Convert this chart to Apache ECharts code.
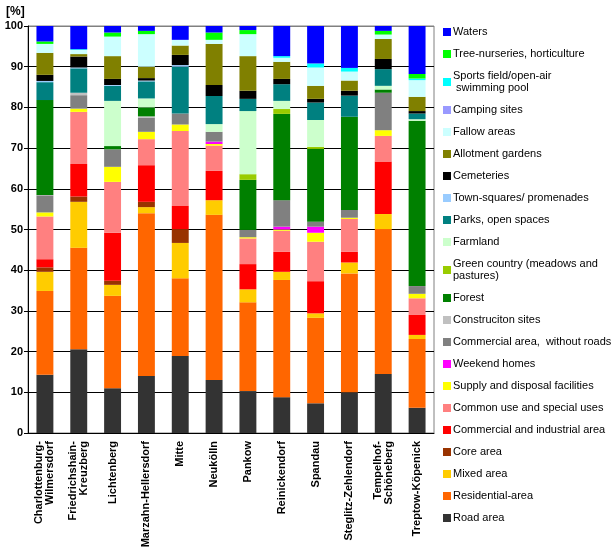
<!DOCTYPE html>
<html>
<head>
<meta charset="utf-8">
<script src="https://cdn.jsdelivr.net/npm/echarts@6/dist/echarts.min.js"></script>
<style>
    html, body { margin: 0; padding: 0; background: #fff; }
    #chart { width: 615px; height: 555px; }
</style>
</head>
<body>
<div id="chart"></div>
<script>
// districts, left to right
var districts = ['Charlottenburg-\nWilmersdorf', 'Friedrichshain-\nKreuzberg', 'Lichtenberg', 'Marzahn-Hellersdorf',
    'Mitte', 'Neukölln', 'Pankow', 'Reinickendorf', 'Spandau', 'Steglitz-Zehlendorf', 'Tempelhof-\nSchöneberg', 'Treptow-Köpenick'];

// land use shares in %, bottom of the stack first
var roadArea        = [14.3, 20.6, 11.0, 14.0, 18.9, 13.0, 10.3, 8.8, 7.3, 10.0, 14.5, 6.2];
var residential     = [20.6, 24.9, 22.7, 40.0, 19.1, 40.6, 21.8, 28.8, 21.0, 29.2, 35.6, 16.9];
var mixedArea       = [4.7, 11.3, 2.7, 1.5, 8.7, 3.6, 3.2, 2.0, 1.1, 2.7, 3.7, 1.0];
var coreArea        = [1.1, 1.3, 1.0, 1.3, 3.4, 0, 0, 0, 0, 0, 0, 0];
var commercialInd   = [2.0, 8.0, 11.8, 9.0, 5.7, 7.2, 6.2, 4.9, 7.9, 2.6, 12.9, 4.9];
var commonUse       = [10.5, 12.8, 12.5, 6.4, 18.4, 6.2, 6.3, 5.2, 9.7, 8.1, 6.3, 4.1];
var supply          = [1.0, 0.8, 3.7, 1.8, 1.6, 0.4, 0.3, 0.3, 2.2, 0.3, 1.4, 1.1];
var weekendHomes    = [0, 0, 0, 0, 0, 0.6, 0, 0.7, 1.5, 0, 0, 0];
var commercialNoRd  = [4.2, 3.3, 4.3, 3.5, 2.7, 2.4, 1.8, 6.5, 1.2, 1.9, 9.2, 1.9];
var construction    = [0.1, 0.6, 0, 0.3, 0, 0, 0, 0, 0, 0, 0, 0];
var forest          = [23.3, 0, 0.8, 2.2, 0, 0, 12.3, 21.2, 17.9, 22.9, 0.8, 40.6];
var greenCountry    = [0, 0, 0, 0, 0, 0, 1.4, 1.2, 0.5, 0, 0, 0];
var farmland        = [0, 0, 11.1, 2.2, 0, 1.9, 15.5, 2.0, 6.6, 0, 0.9, 0.4];
var parks           = [4.4, 6.0, 3.7, 4.2, 11.5, 6.9, 3.0, 4.1, 4.3, 5.2, 4.1, 1.4];
var townSquares     = [0.3, 0.2, 0.2, 0.2, 0.4, 0, 0, 0, 0, 0, 0, 0];
var cemeteries      = [1.5, 2.7, 1.5, 0.6, 2.5, 2.7, 2.0, 1.3, 0.9, 1.2, 2.5, 0.6];
var allotments      = [5.4, 0.6, 5.6, 2.8, 2.3, 10.1, 8.5, 4.2, 3.2, 2.5, 4.9, 3.5];
var fallow          = [2.2, 1.0, 4.8, 8.0, 1.4, 1.0, 5.4, 1.0, 4.5, 2.2, 1.1, 4.1];
var camping         = [0, 0, 0, 0, 0, 0, 0, 0, 0, 0, 0, 0];
var sports          = [0, 0.2, 0, 0, 0, 0, 0, 0.4, 1.0, 0.9, 0, 0.4];
var treeNurseries   = [0.6, 0, 1.0, 0.8, 0, 1.8, 1.0, 0, 0, 0, 0.9, 1.1];
var waters          = [3.8, 5.7, 1.6, 1.2, 3.4, 1.6, 1.0, 7.4, 9.2, 10.3, 1.2, 11.8];

var yTicks = [0, 10, 20, 30, 40, 50, 60, 70, 80, 90, 100];

var layers = [
    ['Road area', roadArea, '#333333'],
    ['Residential-area', residential, '#FF6600'],
    ['Mixed area', mixedArea, '#FFCC00'],
    ['Core area', coreArea, '#993300'],
    ['Commercial and industrial area', commercialInd, '#FF0000'],
    ['Common use and special uses', commonUse, '#FF8080'],
    ['Supply and disposal facilities', supply, '#FFFF00'],
    ['Weekend homes', weekendHomes, '#FF00FF'],
    ['Commercial area,  without roads', commercialNoRd, '#808080'],
    ['Construciton sites', construction, '#C0C0C0'],
    ['Forest', forest, '#008000'],
    ['Green country (meadows and pastures)', greenCountry, '#99CC00'],
    ['Farmland', farmland, '#CCFFCC'],
    ['Parks, open spaces', parks, '#008080'],
    ['Town-squares/ promenades', townSquares, '#99CCFF'],
    ['Cemeteries', cemeteries, '#000000'],
    ['Allotment gardens', allotments, '#808000'],
    ['Fallow areas', fallow, '#CCFFFF'],
    ['Camping sites', camping, '#9999FF'],
    ['Sports field/open-air swimming pool', sports, '#00FFFF'],
    ['Tree-nurseries, horticulture', treeNurseries, '#00FF00'],
    ['Waters', waters, '#0000FF']
];

var series = layers.map(function (l) {
    return {
        name: l[0],
        type: 'bar',
        stack: 'all',
        barWidth: '50%',
        itemStyle: { color: l[2] },
        data: l[1]
    };
});

var legendNames = layers.map(function (l) { return l[0]; }).reverse();

var chart = echarts.init(document.getElementById('chart'));
chart.setOption({
    animation: false,
    textStyle: { fontFamily: 'Liberation Sans, Arial, sans-serif' },
    title: {
        text: '[%]',
        left: 1,
        top: 1,
        textStyle: { fontSize: 12, fontWeight: 'bold', color: '#000' }
    },
    legend: {
        orient: 'vertical',
        left: 443,
        top: 26,
        padding: 0,
        itemWidth: 8,
        itemHeight: 8,
        itemGap: 10,
        icon: 'rect',
        data: legendNames,
        formatter: function (name) {
            if (name === 'Sports field/open-air swimming pool') return 'Sports field/open-air\n swimming pool';
            if (name === 'Green country (meadows and pastures)') return 'Green country (meadows and\npastures)';
            return name;
        },
        textStyle: { fontSize: 11, color: '#000', lineHeight: 12, padding: [0, 0, 0, -3] }
    },
    grid: {
        left: 28,
        top: 26,
        right: 181,
        bottom: 122,
        show: true,
        borderColor: '#808080',
        borderWidth: 1
    },
    xAxis: {
        type: 'category',
        data: districts,
        axisLine: { lineStyle: { color: '#000' } },
        axisTick: { lineStyle: { color: '#000' }, length: 4 },
        axisLabel: {
            rotate: 90,
            interval: 0,
            margin: 8,
            fontSize: 11,
            fontWeight: 'bold',
            color: '#000',
            lineHeight: 11
        }
    },
    yAxis: {
        type: 'value',
        min: yTicks[0],
        max: yTicks[yTicks.length - 1],
        interval: 10,
        axisLine: { show: true, lineStyle: { color: '#000' } },
        axisTick: { show: true, lineStyle: { color: '#000' }, length: 4 },
        axisLabel: { fontSize: 11, fontWeight: 'bold', color: '#000', margin: 5 },
        splitLine: {
            lineStyle: {
                color: ['#000', '#000', '#000', '#000', '#000', '#000', '#000', '#000', '#000', '#000', '#808080']
            }
        }
    },
    tooltip: {},
    series: series
});
</script>
</body>
</html>
